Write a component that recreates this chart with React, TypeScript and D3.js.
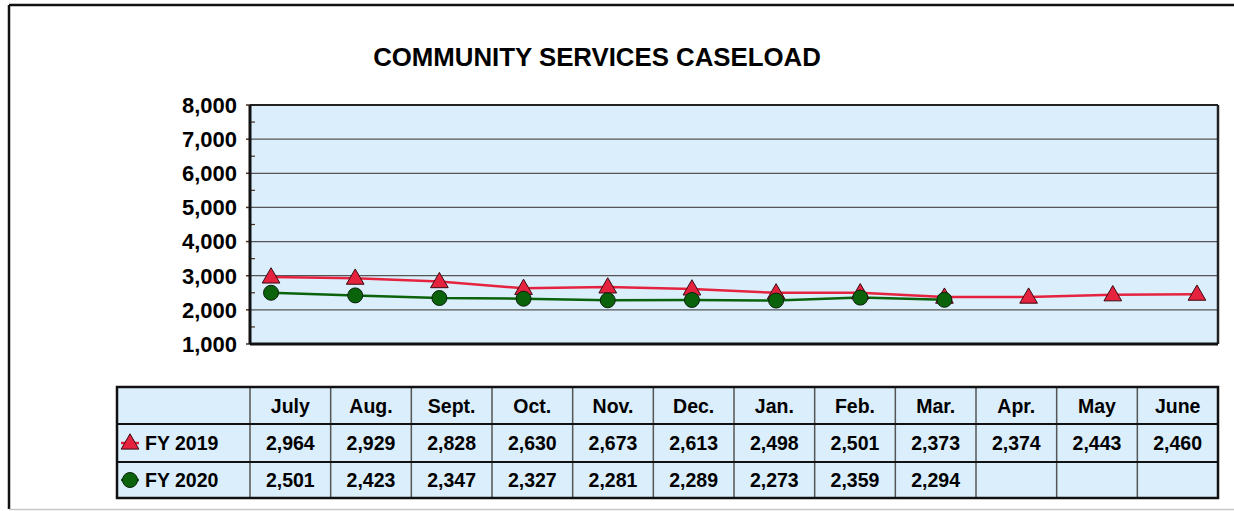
import React from "react";
import * as d3 from "d3";

const months = ["July", "Aug.", "Sept.", "Oct.", "Nov.", "Dec.", "Jan.", "Feb.", "Mar.", "Apr.", "May", "June"];
const fy2019 = [2964, 2929, 2828, 2630, 2673, 2613, 2498, 2501, 2373, 2374, 2443, 2460];
const fy2020 = [2501, 2423, 2347, 2327, 2281, 2289, 2273, 2359, 2294];
const yTicks = [1000, 2000, 3000, 4000, 5000, 6000, 7000, 8000];
const seriesNames = ["FY 2019", "FY 2020"];

const W = 1234;
const H = 511;
const FONT = "'Liberation Sans', Arial, sans-serif";
const BG = "#daeefc";
const RED = "#e5233f";
const GREEN = "#0a630a";

export default function App() {
  const pl = 250, pr = 1218, pt = 105, pb = 344;
  const x = d3.scalePoint<string>().domain(months).range([pl, pr]).padding(0.25);
  const y = d3.scaleLinear().domain([1000, 8000]).range([pb, pt]);
  const minor = d3.range(1500, 8000, 1000);
  const fmt = d3.format(",");

  const line = d3
    .line<number>()
    .x((_, i) => x(months[i]) as number)
    .y((d) => y(d));

  const tri = d3.symbol().type(d3.symbolTriangle).size(135);

  // table geometry
  const tl = 117, tTop = 387, rowH = [37, 38, 36];
  const colX = d3.scaleBand<string>().domain(months).range([pl, pr]);
  const rowY = [tTop, tTop + rowH[0], tTop + rowH[0] + rowH[1], tTop + rowH[0] + rowH[1] + rowH[2]];
  const tBottom = rowY[3];

  return (
    <svg
      width={W}
      height={H}
      style={{ position: "absolute", left: 0, top: 0, background: "#fff" }}
      fontFamily={FONT}
    >
      {/* outer frame */}
      <line x1={9} y1={5} x2={W} y2={5} stroke="#111" strokeWidth={2.5} />
      <line x1={9} y1={5} x2={9} y2={509} stroke="#111" strokeWidth={2.5} />
      <line x1={9} y1={509.5} x2={W} y2={509.5} stroke="#c8c8c8" strokeWidth={1.5} />

      {/* title */}
      <text x={597} y={66} textAnchor="middle" fontSize={25.8} fontWeight="bold" fill="#000">
        COMMUNITY SERVICES CASELOAD
      </text>

      {/* plot area */}
      <rect x={pl} y={pt} width={pr - pl} height={pb - pt} fill={BG} />
      {yTicks.slice(1, -1).map((t) => (
        <line key={t} x1={pl} x2={pr} y1={y(t)} y2={y(t)} stroke="#555" strokeWidth={1.3} />
      ))}
      {minor.map((t) => (
        <line key={"m" + t} x1={pl} x2={pl + 5} y1={y(t)} y2={y(t)} stroke="#4a3020" strokeWidth={1.2} />
      ))}
      {yTicks.map((t) => (
        <line key={"mt" + t} x1={pl - 4} x2={pl} y1={y(t)} y2={y(t)} stroke="#4a3020" strokeWidth={1.5} />
      ))}
      <line x1={pl} x2={pr} y1={pt} y2={pt} stroke="#222" strokeWidth={2} />
      <line x1={pr} x2={pr} y1={pt} y2={pb} stroke="#222" strokeWidth={2.5} />
      <line x1={pl} x2={pl} y1={pt} y2={pb} stroke="#111" strokeWidth={3} />
      <line x1={pl} x2={pr} y1={pb} y2={pb} stroke="#111" strokeWidth={3} />

      {yTicks.map((t) => (
        <text
          key={"yl" + t}
          x={237}
          y={y(t)}
          dy="0.36em"
          textAnchor="end"
          fontSize={22}
          fontWeight="bold"
          fill="#000"
        >
          {fmt(t)}
        </text>
      ))}

      {/* lines */}
      <path d={line(fy2019) || ""} fill="none" stroke={RED} strokeWidth={2.5} />
      <path d={line(fy2020) || ""} fill="none" stroke={GREEN} strokeWidth={2.5} />
      {fy2019.map((v, i) => (
        <path
          key={"t" + i}
          d={tri() || ""}
          transform={`translate(${x(months[i])},${y(v) + 1})`}
          fill={RED}
          stroke="#3a0a10"
          strokeWidth={1}
        />
      ))}
      {fy2020.map((v, i) => (
        <circle
          key={"c" + i}
          cx={x(months[i])}
          cy={y(v)}
          r={7.5}
          fill={GREEN}
          stroke="#0a200a"
          strokeWidth={1}
        />
      ))}

      {/* table */}
      <rect x={tl} y={tTop} width={pr - tl} height={tBottom - tTop} fill={BG} />
      {months.map((m) => (
        <line
          key={"v" + m}
          x1={colX(m) as number}
          x2={colX(m) as number}
          y1={tTop}
          y2={tBottom}
          stroke="#555"
          strokeWidth={1.5}
        />
      ))}
      <line x1={tl} x2={pr} y1={rowY[1]} y2={rowY[1]} stroke="#111" strokeWidth={2} />
      <line x1={tl} x2={pr} y1={rowY[2]} y2={rowY[2]} stroke="#111" strokeWidth={2} />
      <rect
        x={tl}
        y={tTop}
        width={pr - tl}
        height={tBottom - tTop}
        fill="none"
        stroke="#111"
        strokeWidth={2.5}
      />

      {months.map((m) => (
        <text
          key={"h" + m}
          x={(colX(m) as number) + colX.bandwidth() / 2}
          y={(rowY[0] + rowY[1]) / 2}
          dy="0.36em"
          textAnchor="middle"
          fontSize={19.5}
          fontWeight="bold"
          fill="#000"
        >
          {m}
        </text>
      ))}
      {[fy2019, fy2020].map((arr, r) =>
        arr.map((v, i) => (
          <text
            key={"d" + r + "-" + i}
            x={(colX(months[i]) as number) + colX.bandwidth() / 2}
            y={(rowY[r + 1] + rowY[r + 2]) / 2}
            dy="0.36em"
            textAnchor="middle"
            fontSize={19.5}
            fontWeight="bold"
            fill="#000"
          >
            {fmt(v)}
          </text>
        ))
      )}

      {/* legend keys */}
      <line x1={121} x2={139} y1={(rowY[1] + rowY[2]) / 2} y2={(rowY[1] + rowY[2]) / 2} stroke={RED} strokeWidth={2.5} />
      <path
        d={tri() || ""}
        transform={`translate(130,${(rowY[1] + rowY[2]) / 2 + 1})`}
        fill={RED}
        stroke="#3a0a10"
        strokeWidth={1}
      />
      <line x1={121} x2={139} y1={(rowY[2] + rowY[3]) / 2} y2={(rowY[2] + rowY[3]) / 2} stroke={GREEN} strokeWidth={2.5} />
      <circle cx={130} cy={(rowY[2] + rowY[3]) / 2} r={7.5} fill={GREEN} stroke="#0a200a" strokeWidth={1} />
      {seriesNames.map((s, r) => (
        <text
          key={s}
          x={145}
          y={(rowY[r + 1] + rowY[r + 2]) / 2}
          dy="0.36em"
          fontSize={19.5}
          fontWeight="bold"
          fill="#000"
        >
          {s}
        </text>
      ))}
    </svg>
  );
}
